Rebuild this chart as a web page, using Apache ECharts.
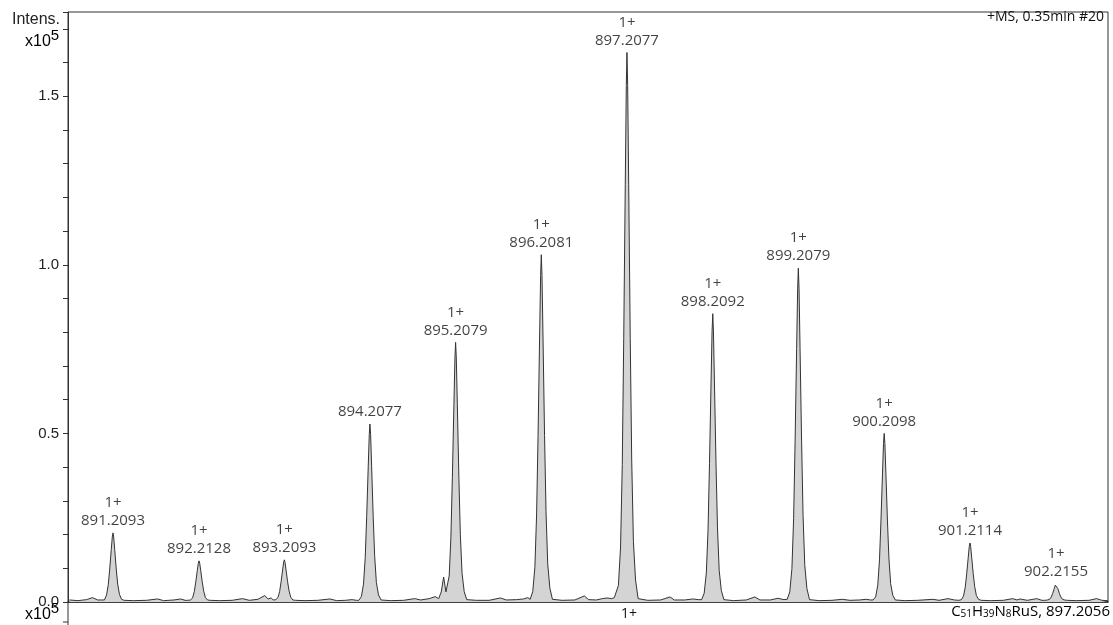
<!DOCTYPE html>
<html>
<head>
<meta charset="utf-8">
<script src="https://cdn.jsdelivr.net/npm/echarts@6/dist/echarts.min.js"></script>
<style>
html,body{margin:0;padding:0;background:#fff;}
#chart{width:1113px;height:625px;}
</style>
</head>
<body>
<div id="chart"></div>
<script>
// Peak annotations (m/z, intensity x10^5, charge label)
const peakMz = [891.2093, 892.2128, 893.2093, 894.2077, 895.2079, 896.2081, 897.2077, 898.2092, 899.2079, 900.2098, 901.2114, 902.2155];
const peakIntensity = [0.205, 0.122, 0.125, 0.528, 0.77, 1.03, 1.63, 0.855, 0.99, 0.50, 0.175, 0.053];
const peakCharge = ['1+', '1+', '1+', '', '1+', '1+', '1+', '1+', '1+', '1+', '1+', '1+'];
const peakLabel = ['891.2093', '892.2128', '893.2093', '894.2077', '895.2079', '896.2081', '897.2077', '898.2092', '899.2079', '900.2098', '901.2114', '902.2155'];

// Profile spectrum: [m/z, intensity x10^5]
const spectrum = [
[890.70,0.006],[890.80,0.004],[890.90,0.007],[890.97,0.013],[891.03,0.006],
[891.079,0.006],[891.109,0.006],[891.134,0.021],[891.154,0.051],[891.171,0.098],[891.189,0.156],[891.201,0.193],[891.2093,0.205],[891.217,0.193],[891.229,0.156],[891.247,0.098],[891.264,0.053],[891.284,0.023],[891.309,0.008],[891.339,0.005],
[891.45,0.004],[891.60,0.005],[891.73,0.009],[891.80,0.004],[891.92,0.006],[892.00,0.009],[892.05,0.005],
[892.083,0.005],[892.113,0.006],[892.138,0.012],[892.158,0.031],[892.175,0.059],[892.193,0.093],[892.205,0.115],[892.2128,0.122],[892.221,0.115],[892.233,0.093],[892.251,0.059],[892.268,0.032],[892.288,0.013],[892.313,0.006],[892.343,0.005],
[892.45,0.004],[892.60,0.005],[892.72,0.01],[892.80,0.005],[892.90,0.008],[892.98,0.019],[893.02,0.009],[893.055,0.012],
[893.079,0.006],[893.109,0.007],[893.134,0.013],[893.154,0.031],[893.171,0.06],[893.189,0.095],[893.201,0.118],[893.2093,0.125],[893.217,0.118],[893.229,0.095],[893.247,0.06],[893.264,0.033],[893.284,0.014],[893.309,0.006],[893.339,0.005],
[893.45,0.004],[893.60,0.005],[893.74,0.009],[893.82,0.004],[893.92,0.005],[894.00,0.007],[894.05,0.005],
[894.078,0.005],[894.108,0.016],[894.133,0.053],[894.153,0.132],[894.170,0.253],[894.188,0.401],[894.200,0.496],[894.2077,0.528],[894.216,0.496],[894.228,0.401],[894.246,0.253],[894.263,0.137],[894.283,0.058],[894.308,0.021],[894.338,0.006],
[894.45,0.004],[894.60,0.005],[894.73,0.01],[894.80,0.006],[894.90,0.01],[894.97,0.016],[895.01,0.01],[895.04,0.03],[895.068,0.074],[895.095,0.03],[895.11,0.025],
[895.133,0.077],[895.153,0.193],[895.170,0.37],[895.188,0.585],[895.200,0.724],[895.2079,0.77],[895.216,0.724],[895.228,0.585],[895.246,0.37],[895.263,0.2],[895.283,0.085],[895.308,0.031],[895.338,0.007],
[895.45,0.005],[895.60,0.005],[895.73,0.012],[895.80,0.006],[895.92,0.007],[896.00,0.009],[896.05,0.013],
[896.078,0.008],[896.108,0.031],[896.133,0.103],[896.153,0.258],[896.170,0.494],[896.188,0.783],[896.200,0.968],[896.2081,1.03],[896.216,0.968],[896.228,0.783],[896.246,0.494],[896.263,0.268],[896.283,0.113],[896.308,0.041],[896.338,0.008],
[896.45,0.005],[896.60,0.006],[896.71,0.018],[896.76,0.007],[896.85,0.006],[896.92,0.01],[896.975,0.012],[897.03,0.01],[897.06,0.013],
[897.078,0.012],[897.108,0.049],[897.133,0.163],[897.153,0.408],[897.170,0.782],[897.188,1.239],[897.200,1.532],[897.2077,1.63],[897.216,1.532],[897.228,1.239],[897.246,0.782],[897.263,0.424],[897.283,0.179],[897.308,0.065],[897.338,0.01],
[897.45,0.005],[897.60,0.006],[897.71,0.015],[897.76,0.006],[897.88,0.006],[897.98,0.009],[898.04,0.007],
[898.079,0.007],[898.109,0.026],[898.134,0.086],[898.154,0.214],[898.171,0.41],[898.189,0.65],[898.201,0.804],[898.2092,0.855],[898.217,0.804],[898.229,0.65],[898.247,0.41],[898.264,0.222],[898.284,0.094],[898.309,0.034],[898.339,0.007],
[898.45,0.004],[898.60,0.006],[898.70,0.015],[898.76,0.006],[898.88,0.006],[898.97,0.011],[899.04,0.007],
[899.078,0.008],[899.108,0.03],[899.133,0.099],[899.153,0.248],[899.170,0.475],[899.188,0.752],[899.200,0.931],[899.2079,0.99],[899.216,0.931],[899.228,0.752],[899.246,0.475],[899.263,0.257],[899.283,0.109],[899.308,0.04],[899.338,0.007],
[899.45,0.004],[899.60,0.005],[899.72,0.008],[899.81,0.005],[899.92,0.006],[900.00,0.008],[900.05,0.006],
[900.08,0.006],[900.11,0.015],[900.135,0.05],[900.155,0.125],[900.172,0.24],[900.19,0.38],[900.202,0.47],[900.2098,0.50],[900.218,0.47],[900.23,0.38],[900.248,0.24],[900.265,0.13],[900.285,0.055],[900.31,0.02],[900.34,0.006],
[900.45,0.004],[900.60,0.005],[900.78,0.008],[900.85,0.005],[900.955,0.01],[901.03,0.006],
[901.081,0.005],[901.111,0.007],[901.136,0.018],[901.156,0.044],[901.173,0.084],[901.191,0.133],[901.203,0.165],[901.2114,0.175],[901.219,0.165],[901.231,0.133],[901.249,0.084],[901.266,0.046],[901.286,0.019],[901.311,0.008],[901.341,0.005],
[901.45,0.004],[901.60,0.005],[901.71,0.01],[901.76,0.006],[901.795,0.009],[901.88,0.005],[901.99,0.01],[902.05,0.005],
[902.085,0.005],[902.115,0.006],[902.14,0.008],[902.16,0.015],[902.177,0.026],[902.195,0.04],[902.207,0.05],[902.2155,0.053],[902.224,0.05],[902.236,0.04],[902.254,0.026],[902.271,0.015],[902.291,0.008],[902.316,0.006],[902.346,0.005],
[902.45,0.004],[902.60,0.005],[902.69,0.01],[902.75,0.005],[902.82,0.004]
];

const yTickLabels = ['0.0', '0.5', '1.0', '1.5'];

const chart = echarts.init(document.getElementById('chart'), null, {renderer: 'canvas'});

const labelData = peakMz.map((m, i) => ({
  value: [m, peakIntensity[i]],
  charge: peakCharge[i],
  mass: peakLabel[i]
}));

const option = {
  animation: false,
  backgroundColor: '#ffffff',
  grid: {left: 68, right: 5, top: 12, bottom: 23, show: true, borderColor: '#333', borderWidth: 1, backgroundColor: 'transparent'},
  xAxis: {
    type: 'value', min: 890.684, max: 902.822,
    axisLine: {show: true, lineStyle: {color: '#222', width: 1.5}},
    axisTick: {show: false}, axisLabel: {show: false}, splitLine: {show: false}
  },
  yAxis: {
    type: 'value', min: 0, max: 1.75, interval: 0.5,
    axisLine: {show: true, lineStyle: {color: '#333', width: 1}},
    axisTick: {show: true, length: 5, inside: false, lineStyle: {color: '#333'}},
    minorTick: {show: true, splitNumber: 5, length: 5, lineStyle: {color: '#333'}},
    axisLabel: {
      margin: 9, color: '#222', fontFamily: 'Liberation Sans', fontSize: 15,
      formatter: function (v) { const k = Math.round(v / 0.5); return yTickLabels[k] !== undefined ? yTickLabels[k] : ''; }
    },
    splitLine: {show: false}
  },
  series: [
    {
      type: 'line', data: spectrum, showSymbol: false, smooth: false, sampling: null,
      lineStyle: {color: '#333', width: 1},
      areaStyle: {color: '#d4d4d4', opacity: 1},
      z: 2
    },
    {
      type: 'scatter', data: labelData, symbolSize: 0, z: 3,
      label: {
        show: true, position: 'top', distance: 3,
        fontFamily: 'Open Sans', fontSize: 15, color: '#111', lineHeight: 18, align: 'center',
        formatter: function (p) { return p.data.charge ? p.data.charge + '\n' + p.data.mass : p.data.mass; }
      }
    }
  ],
  graphic: [
    {type: 'text', left: 12, top: 12, style: {text: 'Intens.', fontFamily: 'Liberation Sans', fontSize: 16, fill: '#222'}},
    {type: 'text', left: 25, top: 28, style: {
      text: '{b|x10}{s|5}', rich: {
        b: {fontFamily: 'Liberation Sans', fontSize: 16, color: '#222', verticalAlign: 'bottom', lineHeight: 22},
        s: {fontFamily: 'Liberation Sans', fontSize: 15, color: '#222', verticalAlign: 'top', lineHeight: 22, padding: [0, 0, 6, 0]}
      }}},
    {type: 'text', right: 9, top: 10, style: {text: '+MS, 0.35min #20', fontFamily: 'Open Sans', fontSize: 14, fill: '#111'}},
    {type: 'text', left: 25, top: 601, style: {
      text: '{b|x10}{s|5}', rich: {
        b: {fontFamily: 'Liberation Sans', fontSize: 16, color: '#222', verticalAlign: 'bottom', lineHeight: 22},
        s: {fontFamily: 'Liberation Sans', fontSize: 15, color: '#222', verticalAlign: 'top', lineHeight: 22, padding: [0, 0, 6, 0]}
      }}},
    {type: 'line', shape: {x1: 68, y1: 602, x2: 68, y2: 625}, style: {stroke: '#333', lineWidth: 1}},
    {type: 'line', shape: {x1: 63, y1: 622, x2: 68, y2: 622}, style: {stroke: '#333', lineWidth: 1}},
    {type: 'text', left: 621, top: 607, style: {text: '1+', fontFamily: 'Open Sans', fontSize: 14, fill: '#111'}},
    {type: 'text', right: 3, top: 604, style: {
      text: '{n|C}{sub|51}{n|H}{sub|39}{n|N}{sub|8}{n|RuS, 897.2056}', rich: {
        n: {fontFamily: 'Open Sans', fontSize: 15, color: '#111', verticalAlign: 'bottom', lineHeight: 20},
        sub: {fontFamily: 'Open Sans', fontSize: 10, color: '#111', verticalAlign: 'bottom', lineHeight: 20, padding: [4, 0, 0, 0]}
      }}}
  ]
};
chart.setOption(option);
</script>
</body>
</html>
